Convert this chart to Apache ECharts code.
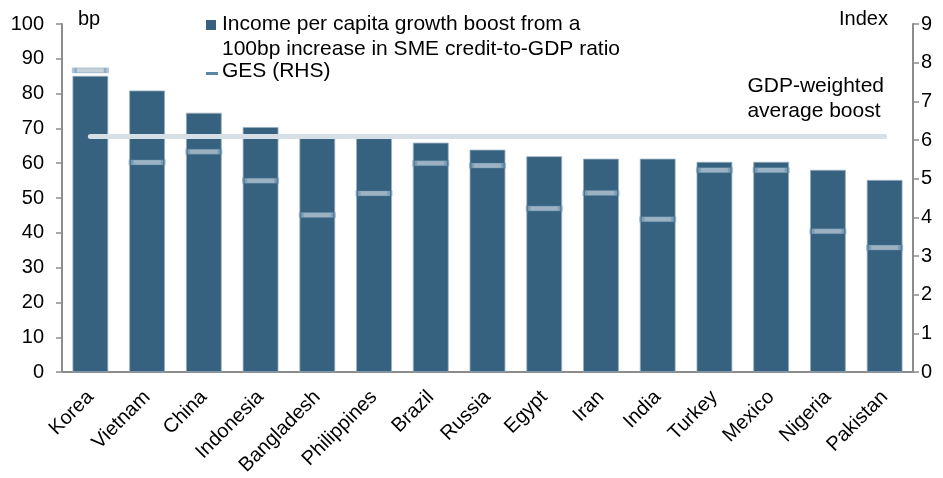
<!DOCTYPE html>
<html>
<head>
<meta charset="utf-8">
<script src="https://cdn.jsdelivr.net/npm/echarts@6/dist/echarts.min.js"></script>
<style>
  html, body { margin: 0; padding: 0; background: #fff; }
  #chart { width: 943px; height: 478px; }
</style>
</head>
<body>
<div id="chart"></div>
<script>
// Countries, in descending order of the income boost
const countries = ['Korea', 'Vietnam', 'China', 'Indonesia', 'Bangladesh', 'Philippines', 'Brazil',
  'Russia', 'Egypt', 'Iran', 'India', 'Turkey', 'Mexico', 'Nigeria', 'Pakistan'];

// Income per capita growth boost (bp) from a 100bp rise in SME credit-to-GDP
const incomeBoost = [85.1, 80.9, 74.5, 70.4, 67.2, 67.2, 65.9, 63.9, 62.0, 61.3, 61.3, 60.4, 60.4, 58.1, 55.2];

// GES index (right-hand scale)
const ges = [7.8, 5.42, 5.7, 4.95, 4.06, 4.62, 5.4, 5.34, 4.23, 4.63, 3.95, 5.22, 5.22, 3.64, 3.22];

// GDP-weighted average boost, read on the right-hand scale
const weightedAverage = 6.1;

const leftTicks = { min: 0, max: 100, interval: 10 };
const rightTicks = { min: 0, max: 9, interval: 1 };

const FONT = 'Liberation Sans, Arial, sans-serif';
const BAR = '#36617f';
const axisGray = '#8c8c8c';

const chart = echarts.init(document.getElementById('chart'), null, { renderer: 'canvas' });

chart.setOption({
  animation: false,
  textStyle: { fontFamily: FONT },
  grid: { left: 62, right: 30, top: 24, bottom: 105, containLabel: false },
  xAxis: {
    type: 'category',
    data: countries,
    axisLine: { lineStyle: { color: axisGray, width: 2 } },
    axisTick: { show: false },
    axisLabel: {
      interval: 0, rotate: 45, fontSize: 20, color: '#000', margin: 22, fontFamily: FONT
    }
  },
  yAxis: [
    {
      type: 'value', min: leftTicks.min, max: leftTicks.max, interval: leftTicks.interval,
      splitLine: { show: false },
      axisLine: { show: true, lineStyle: { color: axisGray, width: 2 } },
      axisTick: { show: true, length: 6, lineStyle: { color: axisGray, width: 1.5 } },
      axisLabel: { fontSize: 20, color: '#000', margin: 18, fontFamily: FONT }
    },
    {
      type: 'value', min: rightTicks.min, max: rightTicks.max, interval: rightTicks.interval,
      position: 'right',
      splitLine: { show: false },
      axisLine: { show: true, lineStyle: { color: axisGray, width: 2 } },
      axisTick: { show: true, length: 6, lineStyle: { color: axisGray, width: 1.5 } },
      axisLabel: { fontSize: 20, color: '#000', margin: 8, fontFamily: FONT }
    }
  ],
  series: [
    {
      name: 'Income per capita growth boost',
      type: 'bar',
      data: incomeBoost,
      barCategoryGap: '37%',
      itemStyle: { color: BAR, borderColor: '#9bb0c0', borderWidth: 0.8 },
      z: 2
    },
    {
      name: 'GES (RHS)',
      type: 'scatter',
      yAxisIndex: 1,
      data: ges,
      symbol: 'rect',
      symbolSize: [32, 5],
      itemStyle: { color: '#b6c6d2', borderColor: 'rgba(90,135,170,0.6)', borderWidth: 2 },
      z: 4,
      markLine: {
        silent: true,
        symbol: 'none',
        label: { show: false },
        lineStyle: { color: '#d6dfe5', width: 5, type: 'solid', cap: 'round' },
        data: [[
          { coord: [countries[0], weightedAverage] },
          { coord: [countries[countries.length - 1], weightedAverage] }
        ]],
        z: 3
      }
    }
  ],
  graphic: [
    { type: 'text', left: 78, top: 9, style: { text: 'bp', font: '20px ' + FONT, fill: '#000' } },
    { type: 'text', left: 839, top: 9, style: { text: 'Index', font: '20px ' + FONT, fill: '#000' } },
    // legend
    { type: 'rect', shape: { x: 206, y: 20, width: 10, height: 10 }, style: { fill: BAR } },
    {
      type: 'text', left: 222, top: 12,
      style: {
        text: 'Income per capita growth boost from a\n100bp increase in SME credit-to-GDP ratio',
        font: '21px ' + FONT, fill: '#000', lineHeight: 25
      }
    },
    { type: 'rect', shape: { x: 206, y: 72, width: 12, height: 3 }, style: { fill: '#5b87a7' } },
    {
      type: 'text', left: 222, top: 61,
      style: { text: 'GES (RHS)', font: '21px ' + FONT, fill: '#000' }
    },
    {
      type: 'text', right: 59, top: 74,
      style: {
        text: 'GDP-weighted\naverage boost', font: '21px ' + FONT, fill: '#000',
        align: 'right', lineHeight: 25
      }
    }
  ]
});
</script>
</body>
</html>
